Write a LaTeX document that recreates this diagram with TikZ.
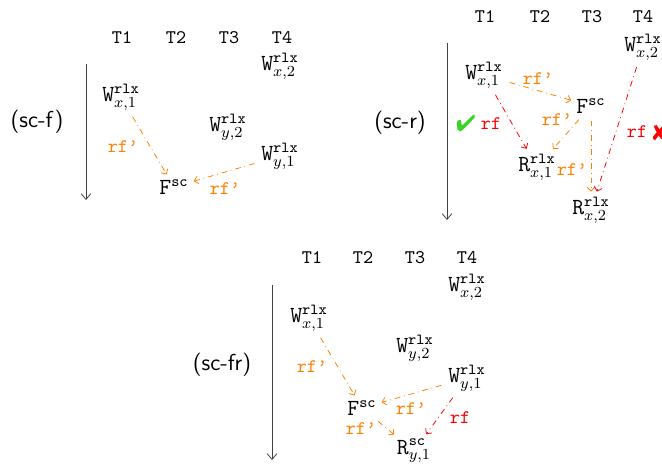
\documentclass[tikz,border=0pt]{standalone}
\usepackage{fontspec}
\usepackage{pifont}
\usetikzlibrary{arrows.meta}
\definecolor{rforange}{RGB}{255,128,0}
\definecolor{rfred}{RGB}{255,0,0}
\definecolor{chkgreen}{RGB}{60,210,40}
\newcommand{\evW}[1]{\texttt{W}$^{\mathtt{rlx}}_{#1}$}
\newcommand{\evR}[2]{\texttt{R}$^{\mathtt{#1}}_{#2}$}
\newcommand{\evF}{\texttt{F}$^{\mathtt{sc}}$}
\newcommand{\rfp}{rf’}
\begin{document}
\begin{tikzpicture}[x=0.52pt,y=-0.52pt,
  ev/.style={inner sep=1.5pt, font=\large},
  thr/.style={font=\ttfamily},
  lbl/.style={font=\sffamily\large},
  tl/.style={draw=black!75, -{Straight Barb[length=3pt,width=5pt]}},
  rfarrow/.style={dash dot, line width=0.4pt, -{Straight Barb[length=2pt,width=4pt]}, shorten <=2pt, shorten >=1pt},
  rfo/.style={rfarrow, draw=rforange},
  rfr/.style={rfarrow, draw=rfred},
  rfol/.style={text=rforange, font=\ttfamily, inner sep=0pt},
  rfrl/.style={text=rfred, font=\ttfamily, inner sep=0pt}]
\useasboundingbox (0,0) rectangle (662,466);

% ---------- (sc-f) ----------
\node[lbl] (l1) at (37,122) {(sc-f)};
\coordinate (t1s) at (86,64);
\coordinate (t1e) at (86,200);
\draw[tl] (t1s) -- (t1e);
\node[thr] (a1) at (122,38) {T1};
\node[thr] (a2) at (176,38) {T2};
\node[thr] (a3) at (229,38) {T3};
\node[thr] (a4) at (282,38) {T4};
\node[ev] (awx2) at (280,66) {\evW{x,2}};
\node[ev] (awx1) at (121,97) {\evW{x,1}};
\node[ev] (awy2) at (228,127) {\evW{y,2}};
\node[ev] (awy1) at (280,156) {\evW{y,1}};
\node[ev] (af) at (174,187) {\evF};
\draw[rfo] (awx1) -- (af);
\draw[rfo] (awy1) -- (af);
\node[rfol] (ar1) at (123,147) {\rfp};
\node[rfol] (ar2) at (225,189) {\rfp};

% ---------- (sc-r) ----------
\node[lbl] (l2) at (400,123) {(sc-r)};
\coordinate (t2s) at (447,43);
\coordinate (t2e) at (447,220);
\draw[tl] (t2s) -- (t2e);
\node[thr] (b1) at (485,17) {T1};
\node[thr] (b2) at (540,17) {T2};
\node[thr] (b3) at (592,17) {T3};
\node[thr] (b4) at (643,17) {T4};
\node[ev] (bwx2) at (643,47) {\evW{x,2}};
\node[ev] (bwx1) at (484,75) {\evW{x,1}};
\node[ev] (bf) at (591,106) {\evF};
\node[ev] (brx1) at (537,167) {\evR{rlx}{x,1}};
\node[ev] (brx2) at (591,210) {\evR{rlx}{x,2}};
\draw[rfo] (bwx1) -- (bf);
\draw[rfr] (bwx1) -- (brx1);
\draw[rfo] (bf) -- (brx1);
\draw[rfo] (bf) -- (brx2);
\draw[rfr] (bwx2) -- (brx2);
\node[rfol] (br1) at (538,79) {\rfp};
\node[rfol] (br2) at (557,120) {\rfp};
\node[rfol] (br3) at (572,170) {\rfp};
\node[rfrl] (br4) at (491,124) {rf};
\node[text=chkgreen, inner sep=0pt] (bchk) at (466,123) {\large\ding{52}};
\node[rfrl] (br5) at (637,132) {rf};
\node[text=rfred, inner sep=0pt] (bx) at (660,132) {\large\ding{56}};

% ---------- (sc-fr) ----------
\node[lbl] (l3) at (222,365) {(sc-fr)};
\coordinate (t3s) at (272,285);
\coordinate (t3e) at (272,460);
\draw[tl] (t3s) -- (t3e);
\node[thr] (c1) at (312,258) {T1};
\node[thr] (c2) at (363,258) {T2};
\node[thr] (c3) at (415,258) {T3};
\node[thr] (c4) at (467,258) {T4};
\node[ev] (cwx2) at (467,287) {\evW{x,2}};
\node[ev] (cwx1) at (309,318) {\evW{x,1}};
\node[ev] (cwy2) at (415,348) {\evW{y,2}};
\node[ev] (cwy1) at (467,378) {\evW{y,1}};
\node[ev] (cf) at (362,408) {\evF};
\node[ev] (cry1) at (414,451) {\evR{sc}{y,1}};
\draw[rfo] (cwx1) -- (cf);
\draw[rfo] (cwy1) -- (cf);
\draw[rfo] (cf) -- (cry1);
\draw[rfr] (cwy1) -- (cry1);
\node[rfol] (cr1) at (312,367) {\rfp};
\node[rfol] (cr2) at (411,409) {\rfp};
\node[rfol] (cr3) at (361,429) {\rfp};
\node[rfrl] (cr4) at (460,418) {rf};
\end{tikzpicture}
\end{document}
